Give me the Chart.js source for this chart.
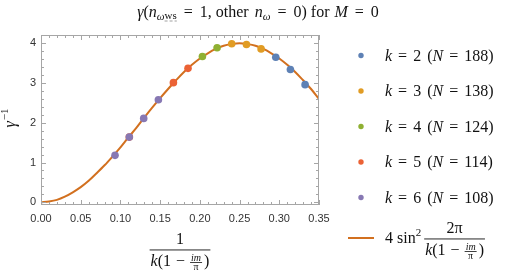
<!DOCTYPE html>
<html>
<head>
<meta charset="utf-8">
<script src="https://cdn.jsdelivr.net/npm/chart.js@4"></script>
<style>
html,body{margin:0;padding:0;background:#fff;}
#wrap{width:507px;height:275px;position:relative;}
</style>
</head>
<body>
<div id="wrap"><canvas id="c"></canvas></div>
<script>
// ---- data ----
const curveX = [0,0.01,0.02,0.03,0.04,0.05,0.06,0.07,0.08,0.09,0.10,0.11,0.12,0.13,0.14,0.15,0.16,0.17,0.18,0.19,0.20,0.21,0.22,0.23,0.24,0.25,0.26,0.27,0.28,0.29,0.30,0.31,0.32,0.33,0.34,0.35];
const curveY = [0,0.02,0.06,0.14,0.25,0.38,0.54,0.73,0.93,1.15,1.38,1.63,1.87,2.13,2.38,2.62,2.85,3.07,3.28,3.46,3.62,3.75,3.86,3.94,3.98,4.00,3.98,3.94,3.86,3.75,3.62,3.46,3.28,3.07,2.85,2.60];
const k2X = [0.2956,0.3140,0.3325];
const k2Y = [3.65,3.34,2.96];
const k3X = [0.2401,0.2587,0.2771];
const k3Y = [3.99,3.97,3.86];
const k4X = [0.2032,0.2217];
const k4Y = [3.67,3.89];
const k5X = [0.1112,0.1667,0.1851];
const k5Y = [1.64,3.01,3.37];
const k6X = [0.0932,0.1112,0.1293,0.1478];
const k6Y = [1.18,1.64,2.11,2.58];
const seriesK = [2,3,4,5,6];
const seriesN = [188,138,124,114,108];
const xTicks = [0,0.05,0.10,0.15,0.20,0.25,0.30,0.35];
const yTicks = [0,1,2,3,4];

const colors = ['#5E81B5','#E19C24','#8FB032','#EB6235','#8778B3'];
const curveColor = '#D2701F';
const frameColor = '#A6A6A6';
const LS = "'Liberation Serif','DejaVu Serif',serif";
function F(sz, it){ return (it?'italic ':'') + sz + 'px ' + LS; }

function pts(xs, ys){ return xs.map((x,i)=>({x:x, y:ys[i]})); }

const allX = [k2X,k3X,k4X,k5X,k6X];
const allY = [k2Y,k3Y,k4Y,k5Y,k6Y];
const datasets = seriesK.map((k,i)=>({
  label: 'k = ' + k + ' (N = ' + seriesN[i] + ')',
  data: pts(allX[i], allY[i]),
  showLine: false,
  pointRadius: 3.8,
  pointHoverRadius: 3.8,
  pointBackgroundColor: colors[i],
  pointBorderWidth: 0,
  borderColor: colors[i],
  order: 5 - i
}));
datasets.push({
  label: '4 sin^2(2π/(k(1-im/π)))',
  data: pts(curveX, curveY),
  showLine: true,
  borderColor: curveColor,
  borderWidth: 2,
  pointRadius: 0,
  cubicInterpolationMode: 'monotone',
  order: 10
});

function runsWidth(ctx, runs){
  let w = 0;
  runs.forEach(r=>{ ctx.font = r.f; w += ctx.measureText(r.t).width + (r.g||0); });
  return w;
}
function drawRuns(ctx, runs, x, y){
  runs.forEach(r=>{
    ctx.font = r.f;
    ctx.fillText(r.t, x, y + (r.dy||0));
    const w = ctx.measureText(r.t).width;
    if (r.dash){
      ctx.save();
      ctx.strokeStyle = '#888'; ctx.lineWidth = 0.8;
      ctx.setLineDash([3,2]);
      ctx.beginPath(); ctx.moveTo(x, y + r.dash + 0.5); ctx.lineTo(x + w, y + r.dash + 0.5); ctx.stroke();
      ctx.restore();
    }
    x += w + (r.g||0);
  });
  return x;
}
// denominator k(1 - im/π) ; returns width
function drawDenom(ctx, x, y, draw){
  const a = [{t:'k', f:F(16,1)},{t:'(1', f:F(16), g:5},{t:'\u2212', f:F(16), g:5}];
  let w = runsWidth(ctx, a);
  ctx.font = F(10,1); const wn = ctx.measureText('im').width;
  ctx.font = F(10); const wd = ctx.measureText('\u03C0').width;
  const fw = Math.max(wn, wd) + 2;
  ctx.font = F(16); const wp = ctx.measureText(')').width;
  const total = w + fw + 2 + wp;
  if (draw){
    let cx = drawRuns(ctx, a, x, y);
    ctx.font = F(10,1); ctx.fillText('im', cx + (fw - wn)/2, y - 5.5);
    ctx.font = F(10); ctx.fillText('\u03C0', cx + (fw - wd)/2, y + 4);
    ctx.fillRect(cx, y - 4, fw, 0.8);
    ctx.font = F(16); ctx.fillText(')', cx + fw + 2, y);
  }
  return total;
}

const deco = {
  id: 'deco',
  afterDraw(chart){
    const ctx = chart.ctx;
    const xs = chart.scales.x, ys = chart.scales.y;
    const a = chart.chartArea;
    ctx.save();
    // frame
    ctx.strokeStyle = frameColor; ctx.lineWidth = 1;
    ctx.strokeRect(Math.round(a.left)+0.5, Math.round(a.top)+0.5, Math.round(a.right-a.left)-1, Math.round(a.bottom-a.top)-1);
    // ticks inside
    ctx.beginPath();
    for (let i = 0; i <= 35; i++){
      const v = i/100;
      const px = Math.round(xs.getPixelForValue(v)) + 0.5;
      const len = (i % 5 === 0) ? 5 : 3;
      ctx.moveTo(px, a.bottom); ctx.lineTo(px, a.bottom - len);
      ctx.moveTo(px, a.top); ctx.lineTo(px, a.top + len);
    }
    for (let i = 0; i <= 21; i++){
      const v = i/5;
      const py = Math.round(ys.getPixelForValue(v)) + 0.5;
      const len = (i % 5 === 0) ? 5 : 3;
      ctx.moveTo(a.left, py); ctx.lineTo(a.left + len, py);
      ctx.moveTo(a.right, py); ctx.lineTo(a.right - len, py);
    }
    ctx.stroke();

    ctx.fillStyle = '#111';
    ctx.textBaseline = 'alphabetic';
    ctx.textAlign = 'left';
    // title
    const title = [
      {t:'\u03B3', f:F(16,1)}, {t:'(', f:F(16)}, {t:'n', f:F(16,1)},
      {t:'\u03C9', f:F(11,1), dy:3}, {t:'ws', f:F(11), dy:2, dash:4, g:7},
      {t:'=', f:F(16), g:7}, {t:'1, other ', f:F(16), g:2}, {t:'n', f:F(16,1)}, {t:'\u03C9', f:F(11,1), dy:3, g:7},
      {t:'=', f:F(16), g:7}, {t:'0) for ', f:F(16), g:1}, {t:'M', f:F(16,1), g:7}, {t:'=', f:F(16), g:7}, {t:'0', f:F(16)}
    ];
    const tw = runsWidth(ctx, title);
    drawRuns(ctx, title, 258 - tw/2, 16.5);

    // y axis title
    ctx.save();
    ctx.translate(15, 118);
    ctx.rotate(-Math.PI/2);
    const yt = [{t:'\u03B3', f:F(16,1), g:1}, {t:'\u22121', f:F(11), dy:-7}];
    const yw = runsWidth(ctx, yt);
    drawRuns(ctx, yt, -yw/2, 0);
    ctx.restore();

    // x axis title
    const cxm = (a.left + a.right)/2;
    const dw = drawDenom(ctx, 0, 0, false);
    ctx.font = F(16); const w1 = ctx.measureText('1').width;
    ctx.fillText('1', cxm - w1/2, 244);
    ctx.fillRect(cxm - dw/2 - 1, 249.5, dw + 2, 0.9);
    drawDenom(ctx, cxm - dw/2, 266, true);

    // legend
    const lx = 361, tx = 385;
    seriesK.forEach((k,i)=>{
      const y = 55.5 + i*35.5;
      ctx.fillStyle = colors[i];
      ctx.beginPath(); ctx.arc(lx, y, 2.7, 0, Math.PI*2); ctx.fill();
      ctx.fillStyle = '#111';
      const runs = [
        {t:'k', f:F(16,1), g:6}, {t:'=', f:F(16), g:6}, {t:String(k), f:F(16), g:6},
        {t:'(', f:F(16)}, {t:'N', f:F(16,1), g:6}, {t:'=', f:F(16), g:6},
        {t:String(seriesN[i]) + ')', f:F(16)}
      ];
      drawRuns(ctx, runs, tx, y + 5);
    });
    // curve legend
    ctx.strokeStyle = curveColor; ctx.lineWidth = 2;
    ctx.beginPath(); ctx.moveTo(348, 238); ctx.lineTo(374, 238); ctx.stroke();
    ctx.fillStyle = '#111';
    let ex = drawRuns(ctx, [{t:'4', f:F(16), g:4}, {t:'sin', f:F(16)}, {t:'2', f:F(11), dy:-7, g:3}], 385, 243);
    const dw2 = drawDenom(ctx, 0, 0, false);
    ctx.font = F(16); const wn2 = ctx.measureText('2\u03C0').width;
    ctx.fillText('2\u03C0', ex + 1 + dw2/2 - wn2/2, 233);
    ctx.fillRect(ex, 238.5, dw2 + 2, 0.9);
    drawDenom(ctx, ex + 1, 255, true);
    ctx.restore();
  }
};

new Chart(document.getElementById('c'), {
  type: 'scatter',
  data: { datasets: datasets },
  options: {
    responsive: true,
    maintainAspectRatio: false,
    animation: false,
    devicePixelRatio: 1,
    layout: { padding: { top: 35, right: 188, left: 0, bottom: 0 } },
    plugins: { legend: { display: false }, title: { display: false }, tooltip: { enabled: false } },
    scales: {
      x: {
        type: 'linear', min: 0, max: 0.35,
        afterBuildTicks: s => { s.ticks = xTicks.map(v=>({value:v})); },
        afterFit: s => { s.height = 70; },
        grid: { display: false, drawTicks: false, tickLength: 0 },
        border: { display: false },
        ticks: { padding: 7, color: '#333', font: { family: "'Liberation Sans', Arial, sans-serif", size: 11 },
                 callback: v => Number(v).toFixed(2), maxRotation: 0, autoSkip: false }
      },
      y: {
        type: 'linear', min: -0.07, max: 4.21,
        afterBuildTicks: s => { s.ticks = yTicks.map(v=>({value:v})); },
        afterFit: s => { s.width = 41; },
        grid: { display: false, drawTicks: false, tickLength: 0 },
        border: { display: false },
        ticks: { padding: 5, color: '#333', font: { family: "'Liberation Sans', Arial, sans-serif", size: 11 },
                 callback: v => String(v) }
      }
    }
  },
  plugins: [deco]
});
</script>
</body>
</html>
